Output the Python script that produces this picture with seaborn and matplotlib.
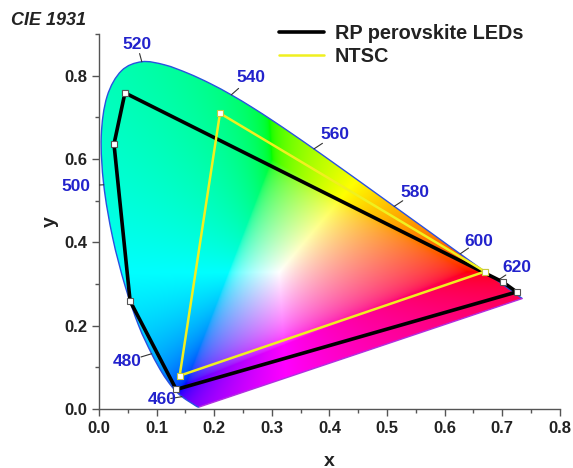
import numpy as np
import pandas as pd
import matplotlib
matplotlib.use("Agg")
import matplotlib.pyplot as plt
import seaborn as sns
from matplotlib.path import Path
from matplotlib.patches import PathPatch
from matplotlib.ticker import MultipleLocator

# CIE 1931 2-degree spectral locus (wavelength nm, x, y)
wl = [380, 385, 390, 395, 400, 405, 410, 415, 420, 425, 430, 435, 440, 445, 450, 455,
      460, 465, 470, 475, 480, 485, 490, 495, 500, 505, 510, 515, 520, 525, 530, 535,
      540, 545, 550, 555, 560, 565, 570, 575, 580, 585, 590, 595, 600, 605, 610, 615,
      620, 625, 630, 635, 640, 645, 650, 655, 660, 665, 670, 675, 680, 685, 690, 695, 700]
loc_x = [0.1741, 0.1740, 0.1738, 0.1736, 0.1733, 0.1730, 0.1726, 0.1721, 0.1714, 0.1703,
         0.1689, 0.1669, 0.1644, 0.1611, 0.1566, 0.1510, 0.1440, 0.1355, 0.1241, 0.1096,
         0.0913, 0.0687, 0.0454, 0.0235, 0.0082, 0.0039, 0.0139, 0.0389, 0.0743, 0.1142,
         0.1547, 0.1929, 0.2296, 0.2658, 0.3016, 0.3373, 0.3731, 0.4087, 0.4441, 0.4788,
         0.5125, 0.5448, 0.5752, 0.6029, 0.6270, 0.6482, 0.6658, 0.6801, 0.6915, 0.7006,
         0.7079, 0.7140, 0.7190, 0.7230, 0.7260, 0.7283, 0.7300, 0.7311, 0.7320, 0.7327,
         0.7334, 0.7340, 0.7344, 0.7346, 0.7347]
loc_y = [0.0050, 0.0050, 0.0049, 0.0049, 0.0048, 0.0048, 0.0048, 0.0048, 0.0051, 0.0058,
         0.0069, 0.0086, 0.0109, 0.0138, 0.0177, 0.0227, 0.0297, 0.0399, 0.0578, 0.0868,
         0.1327, 0.2007, 0.2950, 0.4127, 0.5384, 0.6548, 0.7502, 0.8120, 0.8338, 0.8262,
         0.8059, 0.7816, 0.7543, 0.7243, 0.6923, 0.6589, 0.6245, 0.5896, 0.5547, 0.5202,
         0.4866, 0.4544, 0.4242, 0.3965, 0.3725, 0.3514, 0.3340, 0.3197, 0.3083, 0.2993,
         0.2920, 0.2859, 0.2809, 0.2770, 0.2740, 0.2717, 0.2700, 0.2689, 0.2680, 0.2673,
         0.2666, 0.2660, 0.2656, 0.2654, 0.2653]

# Wavelength labels and label positions
label_wl = [460, 480, 500, 520, 540, 560, 580, 600, 620]
label_x = [0.110, 0.049, -0.040, 0.066, 0.263, 0.410, 0.548, 0.659, 0.725]
label_y = [0.022, 0.115, 0.535, 0.876, 0.795, 0.658, 0.519, 0.403, 0.339]

# RP perovskite LEDs gamut
rp_x = [0.045, 0.026, 0.054, 0.134, 0.725, 0.701, 0.045]
rp_y = [0.759, 0.636, 0.259, 0.047, 0.281, 0.305, 0.759]

# NTSC gamut
ntsc_x = [0.67, 0.21, 0.14, 0.67]
ntsc_y = [0.33, 0.71, 0.08, 0.33]

sns.set_style("ticks")
plt.rcParams['font.family'] = ['Liberation Sans', 'DejaVu Sans']
plt.rcParams['font.weight'] = 'bold'

fig = plt.figure(figsize=(5.73, 4.68), dpi=100)
ax = fig.add_axes([0.1728, 0.126, 0.8042, 0.801])


def smooth_path(xs, ys, closed_line=True):
    """Catmull-Rom curve through the locus points, rendered as cubic Beziers."""
    P = np.column_stack([xs, ys])
    n = len(P)
    verts = [tuple(P[0])]
    codes = [Path.MOVETO]
    for i in range(n - 1):
        p0 = P[i - 1] if i > 0 else P[i]
        p1 = P[i]
        p2 = P[i + 1]
        p3 = P[i + 2] if i + 2 < n else P[i + 1]
        c1 = p1 + (p2 - p0) / 6.0
        c2 = p2 - (p3 - p1) / 6.0
        verts += [tuple(c1), tuple(c2), tuple(p2)]
        codes += [Path.CURVE4] * 3
    if closed_line:
        verts.append(tuple(P[0]))
        codes.append(Path.LINETO)
    return Path(verts, codes)


# colour fill
n = 600
gx, gy = np.meshgrid(np.linspace(0, 0.8, n), np.linspace(0.001, 0.9, n))
X = gx / gy
Y = np.ones_like(gx)
Z = (1 - gx - gy) / gy
R = 3.2406 * X - 1.5372 * Y - 0.4986 * Z
G = -0.9689 * X + 1.8758 * Y + 0.0415 * Z
B = 0.0557 * X - 0.2040 * Y + 1.0570 * Z
rgb = np.stack([R, G, B], axis=-1)
m = np.minimum(rgb.min(axis=-1, keepdims=True), 0)
rgb = rgb - m
mx = rgb.max(axis=-1, keepdims=True)
mx[mx == 0] = 1
rgb = np.clip(rgb / mx, 0, 1)
rgb = np.where(rgb <= 0.0031308, 12.92 * rgb, 1.055 * np.power(rgb, 1 / 2.4) - 0.055)
rgb = np.clip(rgb, 0, 1)
im = ax.imshow(rgb, origin='lower', extent=[0, 0.8, 0.001, 0.9], aspect='auto',
               interpolation='bilinear', zorder=1)
locus_path = smooth_path(loc_x, loc_y, closed_line=True)
patch = PathPatch(locus_path, facecolor='none', edgecolor='none', transform=ax.transData)
ax.add_patch(patch)
im.set_clip_path(patch)

# locus outline
ax.add_patch(PathPatch(smooth_path(loc_x, loc_y, closed_line=False), facecolor='none',
                       edgecolor='#2a50e0', lw=1.0, zorder=2))
ax.plot([loc_x[-1], loc_x[0]], [loc_y[-1], loc_y[0]], color='#b030e0', lw=1.0, zorder=2)

# wavelength ticks and labels
for w, lx, ly in zip(label_wl, label_x, label_y):
    i = wl.index(w)
    px, py = loc_x[i], loc_y[i]
    dx, dy = lx - px, ly - py
    d = np.hypot(dx, dy)
    ax.plot([px, px + dx / d * 0.02], [py, py + dy / d * 0.02], color='#333333', lw=0.8, zorder=3)
    ax.text(lx, ly, str(w), color='#2222cc', fontsize=12.5, fontweight='bold',
            ha='center', va='center', zorder=5, clip_on=False)

df_rp = pd.DataFrame({'x': rp_x, 'y': rp_y})
df_ntsc = pd.DataFrame({'x': ntsc_x, 'y': ntsc_y})
sns.lineplot(data=df_rp, x='x', y='y', sort=False, estimator=None, color='black',
             lw=2.6, ax=ax, label='RP perovskite LEDs', zorder=4,
             marker='s', markersize=5, markerfacecolor='white', markeredgecolor='#555555',
             markeredgewidth=0.8)
sns.lineplot(data=df_ntsc, x='x', y='y', sort=False, estimator=None, color='#f0f020',
             lw=1.8, ax=ax, label='NTSC', zorder=4,
             marker='s', markersize=5, markerfacecolor='white', markeredgecolor='#c8c840',
             markeredgewidth=0.8)

ax.set_xlim(0, 0.8)
ax.set_ylim(0, 0.9)
ax.set_xticks(np.arange(0, 0.81, 0.1))
ax.set_yticks(np.arange(0, 0.81, 0.2))
ax.xaxis.set_minor_locator(MultipleLocator(0.05))
ax.yaxis.set_minor_locator(MultipleLocator(0.1))
ax.set_xticklabels([f"{v:.1f}" for v in np.arange(0, 0.81, 0.1)])
ax.set_yticklabels([f"{v:.1f}" for v in np.arange(0, 0.81, 0.2)])
ax.tick_params(axis='both', which='major', length=5, width=1, color='#555555',
               labelsize=12, labelcolor='#222222', direction='out')
ax.tick_params(axis='both', which='minor', length=3, width=1, color='#555555', direction='out')
for lab in ax.get_xticklabels() + ax.get_yticklabels():
    lab.set_fontweight('bold')
sns.despine(ax=ax)
for s in ['left', 'bottom']:
    ax.spines[s].set_color('#555555')
    ax.spines[s].set_linewidth(1)
ax.set_xlabel('x', fontsize=14, fontweight='bold', color='#222222', labelpad=12)
ax.set_ylabel('y', fontsize=14, fontweight='bold', color='#222222', labelpad=4)

leg = ax.legend(loc='upper left', bbox_to_anchor=(279 / 573, 1 - 24 / 468),
                bbox_transform=fig.transFigure, frameon=False, borderpad=0, borderaxespad=0,
                fontsize=14.3, handlelength=2.25, handletextpad=0.55, labelspacing=0.2)
for t in leg.get_texts():
    t.set_fontweight('bold')
    t.set_color('#222222')
for h in leg.legend_handles:
    h.set_marker('')

fig.text(0.019, 0.956, 'CIE 1931', fontsize=13, fontweight='bold', fontstyle='italic',
         color='#222222', ha='left', va='center')

fig.savefig('out.png', dpi=100)
